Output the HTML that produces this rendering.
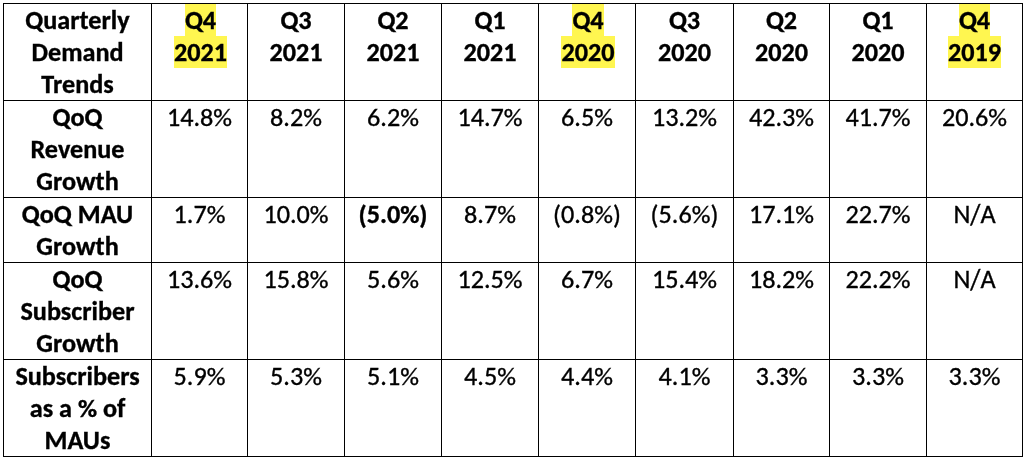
<!DOCTYPE html>
<html><head><meta charset="utf-8"><style>
html,body{margin:0;padding:0;background:#fff;}
body{width:1028px;height:461px;position:relative;overflow:hidden;
font-family:Carlito,"Liberation Sans",sans-serif;font-size:26.2px;line-height:32px;color:#000;-webkit-text-stroke:0.35px #000;}
.v{position:absolute;width:1px;background:#000;}
.h{position:absolute;height:1px;background:#000;}
.c{position:absolute;text-align:center;white-space:nowrap;}
.b{font-weight:bold;}
.sl{display:inline-block;transform:translateY(1.1px) scaleY(1.07);transform-origin:50% 24.9px;}
.p{display:inline-block;transform:translateY(0.9px) scaleY(1.03);transform-origin:50% 24.9px;}
.s{display:inline-block;transform:scaleY(0.945);transform-origin:50% 24.9px;}
.hl{background:#FFF650;}
b{font-weight:bold;}
</style></head><body>

<div class="v" style="left:3px;top:3px;height:454px"></div>
<div class="v" style="left:151px;top:3px;height:454px"></div>
<div class="v" style="left:247px;top:3px;height:454px"></div>
<div class="v" style="left:344px;top:3px;height:454px"></div>
<div class="v" style="left:441px;top:3px;height:454px"></div>
<div class="v" style="left:538px;top:3px;height:454px"></div>
<div class="v" style="left:635px;top:3px;height:454px"></div>
<div class="v" style="left:733px;top:3px;height:454px"></div>
<div class="v" style="left:829px;top:3px;height:454px"></div>
<div class="v" style="left:926px;top:3px;height:454px"></div>
<div class="v" style="left:1022px;top:3px;height:454px"></div>
<div class="h" style="left:3px;top:3px;width:1020px"></div>
<div class="h" style="left:3px;top:100px;width:1020px"></div>
<div class="h" style="left:3px;top:197px;width:1020px"></div>
<div class="h" style="left:3px;top:262px;width:1020px"></div>
<div class="h" style="left:3px;top:359px;width:1020px"></div>
<div class="h" style="left:3px;top:456px;width:1020px"></div>
<div class="c b" style="left:4px;top:4px;width:147px">Quarterly<br>Demand<br>Trends</div>
<div class="c b" style="left:153px;top:4px;width:95px"><span class="hl">Q4</span><br><span class="hl">2021</span></div>
<div class="c b" style="left:248px;top:4px;width:96px">Q3<br>2021</div>
<div class="c b" style="left:345px;top:4px;width:96px">Q2<br>2021</div>
<div class="c b" style="left:442px;top:4px;width:96px">Q1<br>2021</div>
<div class="c b" style="left:540px;top:4px;width:96px"><span class="hl">Q4</span><br><span class="hl">2020</span></div>
<div class="c b" style="left:636px;top:4px;width:97px">Q3<br>2020</div>
<div class="c b" style="left:734px;top:4px;width:95px">Q2<br>2020</div>
<div class="c b" style="left:830px;top:4px;width:96px">Q1<br>2020</div>
<div class="c b" style="left:927px;top:4px;width:95px"><span class="hl">Q4</span><br><span class="hl">2019</span></div>
<div class="c b" style="left:4px;top:101px;width:147px">QoQ<br>Revenue<br>Growth</div>
<div class="c " style="left:152px;top:101px;width:95px">14.<span class="s">8</span><span class="s">%</span></div>
<div class="c " style="left:248px;top:101px;width:96px"><span class="s">8</span>.2<span class="s">%</span></div>
<div class="c " style="left:345px;top:101px;width:96px"><span class="s">6</span>.2<span class="s">%</span></div>
<div class="c " style="left:442px;top:101px;width:96px">14.7<span class="s">%</span></div>
<div class="c " style="left:539px;top:101px;width:96px"><span class="s">6</span>.5<span class="s">%</span></div>
<div class="c " style="left:636px;top:101px;width:97px">13.2<span class="s">%</span></div>
<div class="c " style="left:734px;top:101px;width:95px">42.3<span class="s">%</span></div>
<div class="c " style="left:830px;top:101px;width:96px">41.7<span class="s">%</span></div>
<div class="c " style="left:927px;top:101px;width:95px">20.<span class="s">6</span><span class="s">%</span></div>
<div class="c b" style="left:4px;top:198px;width:147px">QoQ MAU<br>Growth</div>
<div class="c " style="left:152px;top:198px;width:95px">1.7<span class="s">%</span></div>
<div class="c " style="left:248px;top:198px;width:96px">10.0<span class="s">%</span></div>
<div class="c " style="left:345px;top:198px;width:96px"><b><span class="p">(</span>5.0<span class="s">%</span><span class="p">)</span></b></div>
<div class="c " style="left:442px;top:198px;width:96px"><span class="s">8</span>.7<span class="s">%</span></div>
<div class="c " style="left:539px;top:198px;width:96px"><span class="p">(</span>0.<span class="s">8</span><span class="s">%</span><span class="p">)</span></div>
<div class="c " style="left:636px;top:198px;width:97px"><span class="p">(</span>5.<span class="s">6</span><span class="s">%</span><span class="p">)</span></div>
<div class="c " style="left:734px;top:198px;width:95px">17.1<span class="s">%</span></div>
<div class="c " style="left:830px;top:198px;width:96px">22.7<span class="s">%</span></div>
<div class="c " style="left:927px;top:198px;width:95px">N<span class="sl">/</span>A</div>
<div class="c b" style="left:4px;top:263px;width:147px">QoQ<br>Subscriber<br>Growth</div>
<div class="c " style="left:152px;top:263px;width:95px">13.<span class="s">6</span><span class="s">%</span></div>
<div class="c " style="left:248px;top:263px;width:96px">15.<span class="s">8</span><span class="s">%</span></div>
<div class="c " style="left:345px;top:263px;width:96px">5.<span class="s">6</span><span class="s">%</span></div>
<div class="c " style="left:442px;top:263px;width:96px">12.5<span class="s">%</span></div>
<div class="c " style="left:539px;top:263px;width:96px"><span class="s">6</span>.7<span class="s">%</span></div>
<div class="c " style="left:636px;top:263px;width:97px">15.4<span class="s">%</span></div>
<div class="c " style="left:734px;top:263px;width:95px">1<span class="s">8</span>.2<span class="s">%</span></div>
<div class="c " style="left:830px;top:263px;width:96px">22.2<span class="s">%</span></div>
<div class="c " style="left:927px;top:263px;width:95px">N<span class="sl">/</span>A</div>
<div class="c b" style="left:4px;top:360px;width:147px">Subscribers<br>as a <span class="s">%</span> of<br>MAUs</div>
<div class="c " style="left:152px;top:360px;width:95px">5.9<span class="s">%</span></div>
<div class="c " style="left:248px;top:360px;width:96px">5.3<span class="s">%</span></div>
<div class="c " style="left:345px;top:360px;width:96px">5.1<span class="s">%</span></div>
<div class="c " style="left:442px;top:360px;width:96px">4.5<span class="s">%</span></div>
<div class="c " style="left:539px;top:360px;width:96px">4.4<span class="s">%</span></div>
<div class="c " style="left:636px;top:360px;width:97px">4.1<span class="s">%</span></div>
<div class="c " style="left:734px;top:360px;width:95px">3.3<span class="s">%</span></div>
<div class="c " style="left:830px;top:360px;width:96px">3.3<span class="s">%</span></div>
<div class="c " style="left:927px;top:360px;width:95px">3.3<span class="s">%</span></div>
</body></html>
